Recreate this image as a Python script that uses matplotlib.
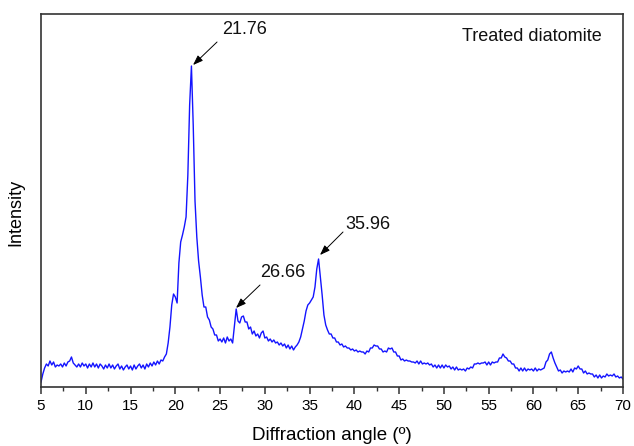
import matplotlib
matplotlib.use('Agg')
import matplotlib.pyplot as plt
from matplotlib.ticker import MultipleLocator
import numpy as np

#--- Diffraction angle grid (degrees, 0.2 step) and intensity (a.u.)
angle_start, angle_step = 5.0, 0.2
intensity = [
	5, 13, 19, 23, 21, 26, 22, 25, 20, 22,
	21, 23, 20, 24, 21, 25, 26, 30, 24, 22,
	20, 23, 20, 24, 21, 23, 19, 23, 20, 24,
	20, 23, 19, 23, 21, 18, 22, 19, 23, 19,
	22, 18, 21, 23, 18, 21, 17, 20, 22, 18,
	21, 17, 22, 18, 21, 23, 19, 22, 18, 23,
	20, 24, 21, 25, 22, 26, 23, 27, 26, 30,
	33, 44, 60, 82, 93, 90, 84, 124, 145, 152,
	160, 170, 212, 282, 321, 262, 186, 150, 126, 110,
	92, 80, 80, 70, 67, 60, 58, 52, 52, 46,
	48, 45, 49, 44, 50, 46, 48, 44, 61, 78,
	66, 64, 70, 71, 65, 65, 58, 60, 53, 56,
	51, 53, 49, 54, 56, 49, 50, 46, 48, 45,
	47, 44, 45, 42, 44, 41, 43, 39, 42, 38,
	41, 37, 40, 42, 45, 50, 58, 66, 76, 82,
	84, 87, 90, 100, 118, 128, 110, 92, 72, 62,
	57, 53, 53, 49, 49, 45, 45, 42, 43, 40,
	41, 39, 39, 37, 38, 36, 37, 35, 36, 35,
	35, 33, 36, 35, 39, 39, 42, 41, 41, 38,
	38, 35, 36, 35, 39, 38, 39, 35, 35, 31,
	31, 27, 28, 26, 27, 26, 26, 25, 25, 24,
	26, 23, 26, 23, 24, 23, 24, 22, 23, 20,
	22, 19, 22, 19, 22, 19, 22, 20, 21, 18,
	20, 17, 20, 17, 18, 17, 18, 16, 19, 18,
	20, 19, 23, 23, 24, 23, 24, 24, 25, 22,
	25, 22, 25, 24, 25, 25, 29, 29, 33, 30,
	29, 26, 26, 23, 23, 19, 19, 16, 19, 16,
	19, 16, 18, 17, 18, 16, 19, 16, 18, 17,
	18, 19, 25, 27, 33, 35, 29, 24, 20, 16,
	17, 14, 16, 15, 16, 15, 18, 15, 19, 18,
	21, 18, 18, 14, 16, 13, 14, 13, 13, 10,
	12, 9, 12, 9, 11, 10, 13, 11, 12, 11,
	13, 10, 11, 9, 10, 8,
]
angle = angle_start + angle_step * np.arange(len(intensity))

#--- Labelled peaks: text, peak position, arrow tail, text position
peak_labels = ['21.76', '26.66', '35.96']
peak_tips = [(21.98, 322), (26.78, 79), (36.16, 132)]
arrow_tails = [(24.66, 345), (29.46, 102), (38.73, 155)]
label_pos = [(27.78, 358), (32.03, 114), (41.52, 162)]

plt.rcParams['font.family'] = ['Liberation Sans', 'DejaVu Sans']

fig = plt.figure(figsize=(6.34, 4.46), dpi=100)
ax = fig.add_axes([0.0647, 0.1323, 0.9179, 0.8363])

ax.plot(angle, intensity, color='#1414ff', lw=1.0)

for text, tip, tail, pos in zip(peak_labels, peak_tips, arrow_tails, label_pos):
	ax.annotate('', xy=tip, xytext=tail,
		arrowprops=dict(arrowstyle='-|>,head_length=0.6,head_width=0.22', color='black', lw=0.7, shrinkA=0, shrinkB=0))
	ax.text(pos[0], pos[1], text, ha='center', va='center', fontsize=13, color='#111111')

ax.text(0.8436, 0.941, 'Treated diatomite', transform=ax.transAxes, ha='center', va='center', fontsize=13, color='#111111')

ax.set_xlim(5, 70)
ax.set_ylim(0, 373)
ax.xaxis.set_major_locator(MultipleLocator(5))
ax.xaxis.set_minor_locator(MultipleLocator(2.5))
ax.tick_params(axis='x', which='major', direction='out', length=5, width=1.1, labelsize=11, color='#333333')
ax.tick_params(axis='x', which='minor', direction='out', length=3, width=1.0, color='#333333')
ax.set_yticks([])
for s in ax.spines.values():
	s.set_linewidth(1.2)
	s.set_color('#333333')

ax.set_xlabel('Diffraction angle (º)', fontsize=13.5)
ax.set_ylabel('Intensity', fontsize=13)
ax.xaxis.set_label_coords(0.5, -0.108)
ax.yaxis.set_label_coords(-0.028, 0.469)

fig.savefig('out.png', dpi=100)
